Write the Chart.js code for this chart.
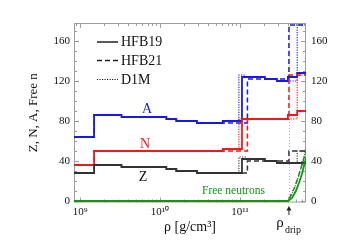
<!DOCTYPE html>
<html>
<head>
<meta charset="utf-8">
<script src="https://cdn.jsdelivr.net/npm/chart.js@4.4.1/dist/chart.umd.min.js"></script>
<style>
html,body{margin:0;padding:0;background:#fff;}
</style>
</head>
<body>
<canvas id="myChart" width="351" height="248"></canvas>
<script>
// density (g/cm3) where each step starts, and Z, N, A of that step
const rhoHFB19 = [8.4e8, 1.5e9, 3.3e9, 1.2e10, 1.6e10, 2.9e10, 6.1e10, 1.06e11, 2.05e11, 2.9e11, 3.98e11, 5.2e11, 6.7e11]
const zHFB19 = [28, 36, 34, 32, 30, 28, 28, 42, 40, 38, 38, 38, 38]
const nHFB19 = [36, 50, 50, 50, 50, 50, 52, 82, 82, 82, 86, 90, 90]
const aHFB19 = [64, 86, 84, 82, 80, 78, 80, 124, 122, 120, 124, 128, 128]

const rhoHFB21 = [8.4e8, 1.5e9, 3.3e9, 1.2e10, 1.6e10, 2.9e10, 1.24e11, 4.1e11, 6.7e11]
const zHFB21 = [28, 36, 34, 32, 30, 28, 40, 50, 50]
const nHFB21 = [36, 50, 50, 50, 50, 50, 82, 126, 126]
const aHFB21 = [64, 86, 84, 82, 80, 78, 122, 176, 176]

const rhoD1M = [8.4e8, 1.5e9, 3.3e9, 1.2e10, 1.6e10, 2.9e10, 6.1e10, 9.7e10, 1.16e11, 2.05e11, 2.9e11, 5.2e11, 6.7e11]
const zD1M = [28, 36, 34, 32, 30, 28, 28, 44, 42, 40, 38, 50, 50]
const nD1M = [36, 50, 50, 50, 50, 50, 52, 82, 82, 82, 82, 126, 126]
const aD1M = [64, 86, 84, 82, 80, 78, 80, 126, 124, 122, 120, 176, 176]

// free neutrons after drip
const rhoFreeHFB19 = [8.4e8, 3.98e11, 4.47e11, 5.01e11, 5.47e11, 5.96e11, 6.31e11, 6.7e11]
const freeHFB19 = [0, 0, 3, 10, 18, 27, 35, 43]
const rhoFreeHFB21 = [8.4e8, 3.76e11, 4.22e11, 4.73e11, 5.31e11, 5.96e11, 6.7e11]
const freeHFB21 = [0, 0, 4, 12, 23, 36, 50]
const rhoFreeD1M = [8.4e8, 3.87e11, 4.35e11, 4.87e11, 5.47e11, 6.13e11, 6.7e11]
const freeD1M = [0, 0, 5, 14, 26, 40, 52]

const rhoDrip = 4.1e11

// axis ticks
const xTicks = [1e9, 1e10, 1e11]
const xTickLabels = ['10\u2079', '10\u00b9\u2070', '10\u00b9\u00b9']
const yTicks = [0, 40, 80, 120, 160]
const yTickLabels = ['0', '40', '80', '120', '160']

const serif = "'Liberation Serif', 'Times New Roman', serif"
const blue = '#1a1ae6', red = '#f01a1a', black = '#333333', green = '#149414', gris = '#9c9c9c'

const estilos = {
    HFB19: {borderDash: [], borderWidth: 1.8},
    HFB21: {borderDash: [5, 3], borderWidth: 1.5},
    D1M: {borderDash: [1.2, 1.3], borderWidth: 1.1}
}

function puntos(xs, ys){
    return xs.map((x, i) => ({x: x, y: ys[i]}))
}

function linea(label, xs, ys, color, modelo, stepped){
    return {
        label: label,
        data: puntos(xs, ys),
        borderColor: color,
        backgroundColor: color,
        borderWidth: estilos[modelo].borderWidth,
        borderDash: estilos[modelo].borderDash,
        pointRadius: 0,
        fill: false,
        stepped: stepped,
        tension: 0,
        yAxisID: 'y'
    }
}

const datasets = [
    linea('free D1M', rhoFreeD1M, freeD1M, green, 'D1M', false),
    linea('free HFB21', rhoFreeHFB21, freeHFB21, green, 'HFB21', false),
    linea('free HFB19', rhoFreeHFB19, freeHFB19, green, 'HFB19', false),
    linea('Z D1M', rhoD1M, zD1M, black, 'D1M', true),
    linea('Z HFB21', rhoHFB21, zHFB21, black, 'HFB21', true),
    linea('Z HFB19', rhoHFB19, zHFB19, black, 'HFB19', true),
    linea('N D1M', rhoD1M, nD1M, red, 'D1M', true),
    linea('N HFB21', rhoHFB21, nHFB21, red, 'HFB21', true),
    linea('N HFB19', rhoHFB19, nHFB19, red, 'HFB19', true),
    linea('A D1M', rhoD1M, aD1M, blue, 'D1M', true),
    linea('A HFB21', rhoHFB21, aHFB21, blue, 'HFB21', true),
    linea('A HFB19', rhoHFB19, aHFB19, blue, 'HFB19', true)
]

function texto(ctx, s, x, y, size, color, align){
    ctx.save()
    ctx.font = size + 'px ' + serif
    ctx.fillStyle = color
    ctx.textAlign = align || 'left'
    ctx.textBaseline = 'middle'
    ctx.fillText(s, x, y)
    ctx.restore()
}

// frame, inside ticks, labels and legend
const decor = {
    id: 'decor',
    beforeDatasetsDraw(chart){
        const {ctx, chartArea: a, scales} = chart
        const xs = scales.x, ys = scales.y
        ctx.save()
        ctx.strokeStyle = gris
        ctx.lineWidth = 1
        ctx.strokeRect(a.left + 0.5, a.top + 0.5, a.right - a.left - 1, a.bottom - a.top - 1)
        ctx.beginPath()
        for(let v = 0; v <= 170; v += 10){
            const y = Math.round(ys.getPixelForValue(v)) + 0.5
            const l = v % 40 == 0 ? 5 : 3
            ctx.moveTo(a.left, y); ctx.lineTo(a.left + l, y)
            ctx.moveTo(a.right, y); ctx.lineTo(a.right - l, y)
        }
        for(let e = 8; e <= 11; e++){
            for(let m = 1; m <= 9; m++){
                const v = m * Math.pow(10, e)
                if(v < xs.min || v > xs.max) continue
                const x = Math.round(xs.getPixelForValue(v)) + 0.5
                const l = m == 1 ? 5 : 3
                ctx.moveTo(x, a.bottom); ctx.lineTo(x, a.bottom - l)
                ctx.moveTo(x, a.top); ctx.lineTo(x, a.top + l)
            }
        }
        ctx.stroke()
        // drip line
        const xd = Math.round(xs.getPixelForValue(rhoDrip)) + 0.5
        ctx.setLineDash([1, 2])
        ctx.strokeStyle = '#b0b0b0'
        ctx.beginPath()
        ctx.moveTo(xd, a.top); ctx.lineTo(xd, a.bottom)
        ctx.stroke()
        ctx.restore()
    },
    afterDraw(chart){
        const {ctx, scales} = chart
        texto(ctx, 'A', 147, 109, 14, blue, 'center')
        texto(ctx, 'N', 145, 144, 14, red, 'center')
        texto(ctx, 'Z', 143, 177, 14, '#111', 'center')
        texto(ctx, 'Free neutrons', 202, 191, 11.5, green)

        // legend
        const items = [['HFB19', 41.5], ['HFB21', 60], ['D1M', 79]]
        items.forEach((it, i) => {
            const est = estilos[it[0]]
            ctx.save()
            ctx.strokeStyle = '#222'
            ctx.lineWidth = i == 2 ? 1 : 1.5
            ctx.setLineDash(est.borderDash)
            ctx.beginPath()
            ctx.moveTo(97, it[1] + 0.5); ctx.lineTo(118, it[1] + 0.5)
            ctx.stroke()
            ctx.restore()
            texto(ctx, it[0], 121, it[1] + 1, 14, '#111')
        })

        // rho drip
        const xd = scales.x.getPixelForValue(rhoDrip)
        ctx.save()
        ctx.strokeStyle = '#222'
        ctx.fillStyle = '#222'
        ctx.lineWidth = 1
        ctx.beginPath()
        ctx.moveTo(xd, 215); ctx.lineTo(xd, 208)
        ctx.stroke()
        ctx.beginPath()
        ctx.moveTo(xd, 206); ctx.lineTo(xd - 2.5, 210.5); ctx.lineTo(xd + 2.5, 210.5)
        ctx.closePath(); ctx.fill()
        ctx.restore()
        texto(ctx, '\u03c1', 280, 223, 15, '#111', 'center')
        texto(ctx, 'drip', 285, 230, 10, '#111')
    }
}

const tickFont = {family: serif, size: 11}

chart = new Chart('myChart', {
    type: 'line',
    data: {datasets: datasets},
    options: {
        responsive: false,
        animation: false,
        devicePixelRatio: 1,
        layout: {padding: {top: 23, left: 0, right: 0, bottom: 0}},
        plugins: {legend: {display: false}, tooltip: {enabled: false}},
        scales: {
            x: {
                type: 'logarithmic',
                min: 8.4e8,
                max: 6.7e11,
                afterFit: s => { s.height = 45.5 },
                afterBuildTicks: s => { s.ticks = xTicks.map(v => ({value: v})) },
                grid: {display: false, drawTicks: false},
                border: {display: false},
                ticks: {
                    autoSkip: false,
                    maxRotation: 0,
                    padding: 3,
                    color: '#111',
                    font: tickFont,
                    callback: (v) => xTickLabels[xTicks.indexOf(v)]
                },
                title: {display: true, text: '\u03c1 [g/cm\u00b3]', color: '#111',
                    font: {family: serif, size: 14}, padding: {top: 0, bottom: 12}}
            },
            y: {
                position: 'left',
                min: -1.5,
                max: 178,
                afterFit: s => { s.width = 74 },
                afterBuildTicks: s => { s.ticks = yTicks.map(v => ({value: v})) },
                grid: {display: false, drawTicks: false},
                border: {display: false},
                ticks: {padding: 4, color: '#111', font: tickFont,
                    callback: (v) => yTickLabels[yTicks.indexOf(v)]},
                title: {display: true, text: 'Z, N, A, Free n', color: '#111',
                    font: {family: serif, size: 13}, padding: {top: 26, bottom: 0}}
            },
            y2: {
                position: 'right',
                min: -1.5,
                max: 178,
                afterFit: s => { s.width = 45 },
                afterBuildTicks: s => { s.ticks = yTicks.map(v => ({value: v})) },
                grid: {display: false, drawTicks: false},
                border: {display: false},
                ticks: {padding: 5, color: '#111', font: tickFont,
                    callback: (v) => yTickLabels[yTicks.indexOf(v)]}
            }
        }
    },
    plugins: [decor]
})
</script>
</body>
</html>
